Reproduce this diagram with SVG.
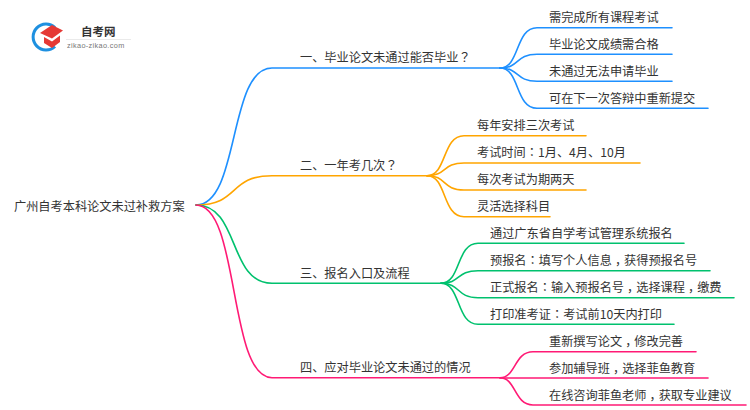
<svg xmlns="http://www.w3.org/2000/svg" width="750" height="410" viewBox="0 0 750 410">
<style>
text{font-family:"Noto Sans CJK SC","Liberation Sans",sans-serif;font-size:12.2px;fill:#333}
.j{font-family:"Noto Sans CJK JP",sans-serif}
.k{letter-spacing:-3px}
.c{fill:none;stroke-width:1.6;stroke-linecap:round}
.b{stroke:#1e90ff}.o{stroke:#ffa500}.g{stroke:#00c16e}.p{stroke:#ff1a75}
</style>
<rect width="750" height="410" fill="#fff"/>
<g id="logo">
<path d="M55 27.500A13 13 0 1 0 55 46.500" fill="none" stroke="#1e90e0" stroke-width="3"/>
<path d="M40 33L52 25L63 30.500L52 38.500Z" fill="#e53935"/>
<path d="M44 37L52 41.500L60 35.500V42L52 48L44 43Z" fill="#e53935"/>
<text x="81" y="36" style="font-size:11.500px;font-weight:700;fill:#333">自考网</text>
<rect x="66" y="39" width="65" height="0.800" fill="#e5e5e5"/>
<text x="67" y="48" style="font-family:'Liberation Sans',sans-serif;font-size:7.300px;letter-spacing:.35px;fill:#777">zikao-zikao.com</text>
</g>
<g id="connectors">
<g class="b">
<path class="c b" d="M196 205C240 205 228 68 272 68H500"/>
<path class="c b" d="M500 68C520 68 515 27.700 537 27.700H672"/>
<path class="c b" d="M500 68C520 68 515 54.300 537 54.300H672"/>
<path class="c b" d="M500 68C520 68 515 81.300 537 81.300H672"/>
<path class="c b" d="M500 68C520 68 515 108.300 537 108.300H708"/>
</g>
<g class="o">
<path class="c o" d="M196 205C240 205 228 175.700 272 175.700H427"/>
<path class="c o" d="M427 175.700C447 175.700 442 135.700 464 135.700H586"/>
<path class="c o" d="M427 175.700C447 175.700 442 163 464 163H640"/>
<path class="c o" d="M427 175.700C447 175.700 442 190 464 190H586"/>
<path class="c o" d="M427 175.700C447 175.700 442 216.700 464 216.700H550"/>
</g>
<g class="g">
<path class="c g" d="M196 205C240 205 228 283.300 272 283.300H441"/>
<path class="c g" d="M441 283.300C461 283.300 456 243.300 478 243.300H684"/>
<path class="c g" d="M441 283.300C461 283.300 456 270.700 478 270.700H710"/>
<path class="c g" d="M441 283.300C461 283.300 456 297.700 478 297.700H734"/>
<path class="c g" d="M441 283.300C461 283.300 456 324.300 478 324.300H674"/>
</g>
<g class="p">
<path class="c p" d="M196 205C240 205 228 377.700 272 377.700H500"/>
<path class="c p" d="M500 377.700C516 377.700 514 351.700 533 351.700H696"/>
<path class="c p" d="M500 378H708"/>
<path class="c p" d="M500 377.700C516 377.700 514 405 533 405H746"/>
</g>
</g>
<g id="root"><text x="14" y="211">广州自考本科论文未过补救方案</text></g>
<g id="n1"><text x="300" y="62">一、毕业论文未通过能否毕业<tspan class="j">？</tspan></text></g>
<g id="n1a"><text x="549" y="22">需完成所有课程考试</text></g>
<g id="n1b"><text x="549" y="49">毕业论文成绩需合格</text></g>
<g id="n1c"><text x="549" y="76">未通过无法申请毕业</text></g>
<g id="n1d"><text x="549" y="103">可在下一次答辩中重新提交</text></g>
<g id="n2"><text x="300" y="170">二、一年考几次<tspan class="j">？</tspan></text></g>
<g id="n2a"><text x="477" y="130">每年安排三次考试</text></g>
<g id="n2b"><text x="477" y="157">考试时间<tspan class="j">：</tspan>1月、4月、10月</text></g>
<g id="n2c"><text x="477" y="184">每次考试为期两天</text></g>
<g id="n2d"><text x="477" y="211">灵活选择科目</text></g>
<g id="n3"><text x="300" y="278">三、报名入口及流程</text></g>
<g id="n3a"><text x="490" y="238">通过广东省自学考试管理系统报名</text></g>
<g id="n3b"><text x="490" y="265">预报名<tspan class="j">：</tspan>填写个人信息<tspan dx="3" class="k">，</tspan>获得预报名号</text></g>
<g id="n3c"><text x="490" y="292">正式报名<tspan class="j">：</tspan>输入预报名号<tspan dx="3" class="k">，</tspan>选择课程<tspan dx="3" class="k">，</tspan>缴费</text></g>
<g id="n3d"><text x="490" y="319">打印准考证<tspan class="j">：</tspan>考试前10天内打印</text></g>
<g id="n4"><text x="300" y="372">四、应对毕业论文未通过的情况</text></g>
<g id="n4a"><text x="549" y="346">重新撰写论文<tspan dx="3" class="k">，</tspan>修改完善</text></g>
<g id="n4b"><text x="549" y="373">参加辅导班<tspan dx="3" class="k">，</tspan>选择菲鱼教育</text></g>
<g id="n4c"><text x="549" y="400">在线咨询菲鱼老师<tspan dx="3" class="k">，</tspan>获取专业建议</text></g>
</svg>
